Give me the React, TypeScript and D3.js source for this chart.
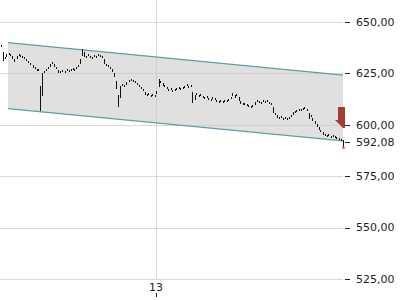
import React from "react";
import * as d3 from "d3";

const closes: number[] = [
  638.3, 631.5, 632.5, 634.0, 634.4, 634.0, 632.5, 631.0, 633.0, 634.0,
  633.5, 633.0, 632.5, 631.5, 630.5, 629.6, 628.1, 627.6, 626.7, 626.7,
  607.2, 624.7, 625.7, 626.7, 627.6, 629.1, 630.1, 628.6, 627.6, 625.7,
  625.7, 626.2, 625.7, 626.7, 626.2, 626.7, 627.1, 626.7, 627.6, 628.6,
  631.5, 636.4, 633.5, 633.0, 634.0, 633.0, 632.5, 633.5, 633.0, 634.0,
  633.5, 633.0, 630.1, 629.1, 628.6, 627.6, 626.2, 623.7, 617.9, 609.1,
  618.4, 619.4, 618.9, 620.3, 621.3, 621.8, 621.3, 620.8, 619.8, 618.9,
  617.9, 616.9, 615.0, 614.5, 615.0, 614.0, 614.5, 614.0, 616.0, 621.8,
  620.8, 619.4, 618.9, 617.9, 616.9, 617.4, 616.4, 616.9, 617.4, 617.9,
  617.4, 617.9, 618.4, 619.4, 618.4, 618.9, 611.1, 614.0, 615.0, 614.0,
  614.5, 613.5, 613.0, 613.5, 612.5, 612.1, 613.0, 612.5, 611.6, 611.1,
  611.6, 611.1, 611.6, 611.6, 612.1, 613.0, 615.0, 613.5, 614.5, 612.1,
  610.6, 610.1, 610.1, 609.6, 609.1, 608.7, 609.1, 610.6, 611.6, 611.1,
  610.6, 611.6, 611.1, 611.6, 610.6, 610.1, 606.2, 605.3, 603.8, 603.3,
  603.8, 602.8, 603.3, 602.8, 603.3, 604.3, 605.7, 606.2, 606.7, 607.2,
  607.2, 607.7, 608.2, 607.2, 603.3, 604.3, 602.3, 600.9, 599.4, 598.0,
  597.0, 595.5, 595.0, 594.5, 595.0, 594.1, 594.5, 594.1, 593.6, 593.1,
  592.6, 592.08,
];
const lastLow = 589.3;
const lastPrice = 592.08;

const yTicks: number[] = [525, 550, 575, 600, 625, 650];
const xTickPositions: number[] = [77.75];
const xTickLabels: string[] = ["13"];

// trend channel: [startIndex, endIndex], values at each end
const channelIdx: number[] = [3.75, 171.25];
const channelUpper: number[] = [640.0, 624.2];
const channelLower: number[] = [607.9, 592.2];

const fmt = (v: number) => v.toFixed(2).replace(".", ",");

export default function App() {
  const W = 400;
  const H = 300;
  const plotRight = 343;
  const x = d3.scaleLinear().domain([0, closes.length - 1]).range([0.5, 342.5]);
  const y = d3.scaleLinear().domain([525, 650]).range([279, 22]);
  const font = "DejaVu Sans, sans-serif";

  const shade = d3.area<number>()
    .x((d) => x(d))
    .y0((_, i) => y(channelLower[i]))
    .y1((_, i) => y(channelUpper[i]))(channelIdx) as string;
  const lineGen = d3.line<[number, number]>().x((d) => x(d[0])).y((d) => y(d[1]));
  const upper = lineGen(channelIdx.map((c, i) => [c, channelUpper[i]]));
  const lower = lineGen(channelIdx.map((c, i) => [c, channelLower[i]]));

  const bars = closes.map((c, i) => {
    const prev = i > 0 ? closes[i - 1] : c;
    const from = c + (prev - c) * 0.6;
    let a = Math.min(y(from), y(c) - 1);
    let b = Math.max(y(from), y(c) + 1);
    if (i === closes.length - 1) b = y(lastLow);
    return { x: Math.round(x(i)) + 0.5, y1: a, y2: b };
  });

  const lastX = x(closes.length - 1);
  const arrowTop = y(608.7);
  const arrowMid = y(602.3);
  const arrowTip = y(598.4);
  const arrow = [
    [lastX - 4.5, arrowTop],
    [lastX + 2.5, arrowTop],
    [lastX + 2.5, arrowTip],
    [lastX + 0.5, arrowTip],
    [lastX - 7.5, arrowMid],
    [lastX - 4.5, arrowMid],
  ]
    .map((p) => p.join(","))
    .join(" ");

  return (
    <svg
      width={W}
      height={H}
      style={{ position: "fixed", left: 0, top: 0, background: "#fff" }}
      fontFamily={font}
    >
      <path d={shade} fill="#e0e0e0" />
      {yTicks.map((t) => (
        <line key={t} x1={0} x2={plotRight} y1={Math.round(y(t)) + 0.5} y2={Math.round(y(t)) + 0.5}
          stroke="#c9c9c9" strokeOpacity={0.7} />
      ))}
      {xTickPositions.map((p) => (
        <line key={p} x1={Math.round(x(p)) + 0.5} x2={Math.round(x(p)) + 0.5} y1={0} y2={279}
          stroke="#c9c9c9" strokeOpacity={0.7} />
      ))}
      <path d={upper ?? ""} stroke="#5c9fa3" strokeWidth={1.2} fill="none" />
      <path d={lower ?? ""} stroke="#5c9fa3" strokeWidth={1.2} fill="none" />
      <polygon points={arrow} fill="#a23d35" />
      {bars.map((b, i) => (
        <line key={i} x1={b.x} x2={b.x} y1={b.y1} y2={b.y2} stroke="#111" strokeWidth={1}
          shapeRendering="crispEdges" />
      ))}
      <circle cx={Math.round(lastX) + 0.5} cy={y(lastLow) + 1} r={1.3} fill="#d9553f" />
      {yTicks.map((t) => (
        <g key={t}>
          <line x1={345} x2={350} y1={Math.round(y(t)) + 0.5} y2={Math.round(y(t)) + 0.5} stroke="#222" />
          <text x={356} y={y(t)} dy="0.35em" fontSize={11} fill="#222">{fmt(t)}</text>
        </g>
      ))}
      <line x1={345} x2={350} y1={Math.round(y(lastPrice)) + 1.5} y2={Math.round(y(lastPrice)) + 1.5} stroke="#222" />
      <text x={356} y={y(lastPrice) + 1.5} dy="0.35em" fontSize={11} fill="#222">{fmt(lastPrice)}</text>
      {xTickPositions.map((p, i) => (
        <g key={p}>
          <text x={x(p)} y={291} textAnchor="middle" fontSize={11} fill="#222">{xTickLabels[i]}</text>
          <line x1={Math.round(x(p)) + 0.5} x2={Math.round(x(p)) + 0.5} y1={293} y2={297} stroke="#222" />
        </g>
      ))}
    </svg>
  );
}
